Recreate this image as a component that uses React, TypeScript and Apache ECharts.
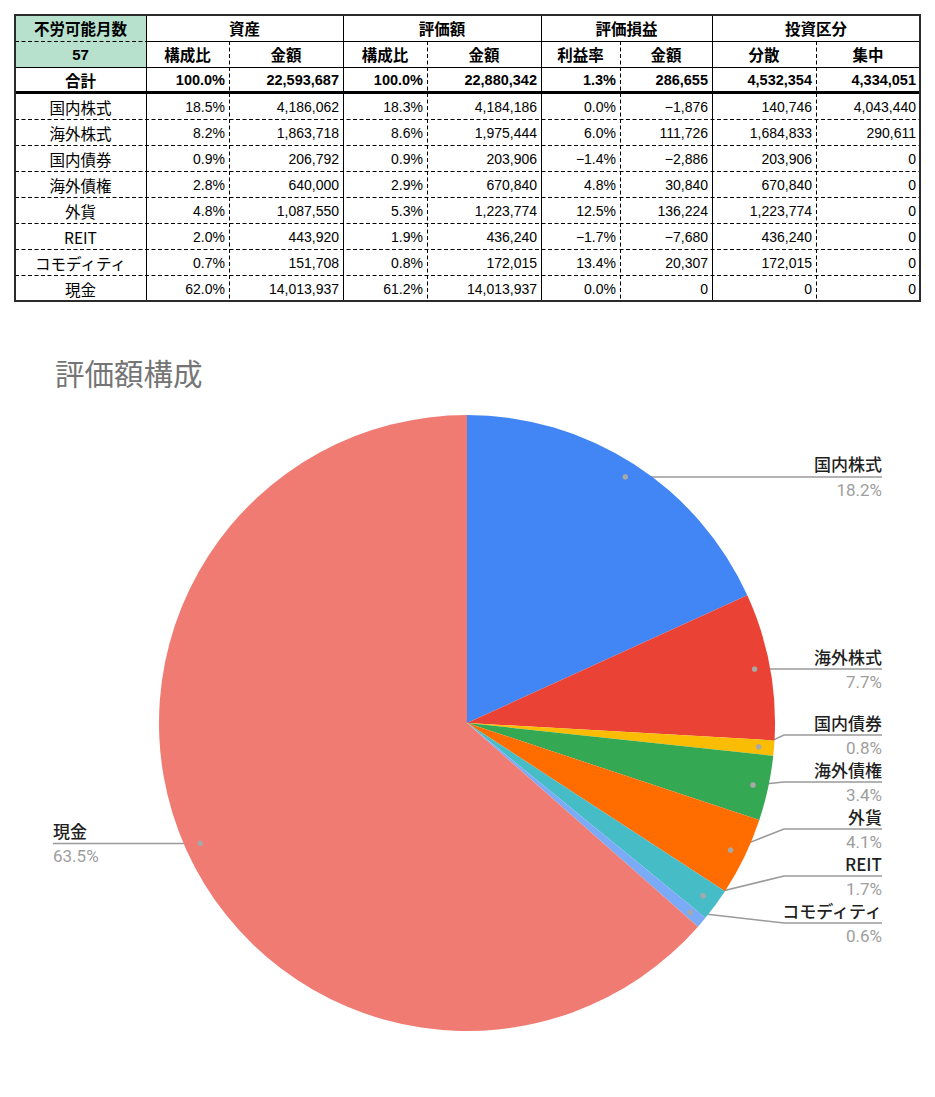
import React, { useEffect, useRef } from 'react';
import * as echarts from 'echarts';

// ---------- data ----------
const rowNames = ['国内株式', '海外株式', '国内債券', '海外債権', '外貨', 'REIT', 'コモディティ', '現金'];
const assetRatio = [18.5, 8.2, 0.9, 2.8, 4.8, 2.0, 0.7, 62.0];
const assetAmount = [4186062, 1863718, 206792, 640000, 1087550, 443920, 151708, 14013937];
const valueRatio = [18.3, 8.6, 0.9, 2.9, 5.3, 1.9, 0.8, 61.2];
const valueAmount = [4184186, 1975444, 203906, 670840, 1223774, 436240, 172015, 14013937];
const profitRate = [0.0, 6.0, -1.4, 4.8, 12.5, -1.7, 13.4, 0.0];
const profitAmount = [-1876, 111726, -2886, 30840, 136224, -7680, 20307, 0];
const diversified = [140746, 1684833, 203906, 670840, 1223774, 436240, 172015, 0];
const concentrated = [4043440, 290611, 0, 0, 0, 0, 0, 0];
const monthsLabel = '不労可能月数';
const monthsValue = 57;
const totalLabel = '合計';
const groupHeaders = ['資産', '評価額', '評価損益', '投資区分'];
const subHeaders = ['構成比', '金額', '構成比', '金額', '利益率', '金額', '分散', '集中'];

const chartTitle = '評価額構成';
const pieShares = [18.2, 7.7, 0.8, 3.4, 4.1, 1.7, 0.6, 63.5];
const pieColors = ['#4285F4', '#EA4335', '#FBBC04', '#34A853', '#FF6D01', '#46BDC6', '#7BAAF7', '#F07B72'];

// ---------- layout ----------
const W = 935;
const H = 1097;
const COLS = [15, 146, 229, 343, 427, 541, 620, 712, 816, 920];
const ROWS = [15, 41, 67, 92, 119, 145, 171, 197, 223, 249, 275, 301];
const CX = 467;
const CY = 723;
const R = 308;
const DOT_R = R * 0.95;
const KNEE = R + 9;
const RIGHT_EDGE = 882;
const LEFT_EDGE = 53;
const LABEL_GAP = 47;
const LABEL_MAX_Y = CY + 200;

const JP = '"Noto Sans CJK JP", "Noto Sans", sans-serif';
const NUM = '"Liberation Sans", Arial, sans-serif';

const sum = (a: number[]) => a.reduce((s, v) => s + v, 0);
const fmtInt = (n: number) => (n < 0 ? '−' : '') + Math.abs(Math.round(n)).toLocaleString('en-US');
const fmtPct = (p: number) => (p < -0.05 ? '−' : '') + Math.abs(p).toFixed(1) + '%';

function buildTable(): any[] {
  const els: any[] = [];
  const left = COLS[0];
  const right = COLS[COLS.length - 1];
  const top = ROWS[0];
  const bottom = ROWS[ROWS.length - 1];
  els.push({
    type: 'rect',
    shape: { x: left, y: top, width: COLS[1] - left, height: ROWS[2] - top },
    style: { fill: '#b7e1cd' },
    silent: true,
  });
  const line = (x1: number, y1: number, x2: number, y2: number, w: number, dash?: number[], color = '#000') => {
    els.push({
      type: 'line',
      shape: { x1, y1, x2, y2 },
      style: { stroke: color, lineWidth: w, lineDash: dash || null },
      silent: true,
      z: 10,
    });
  };
  const DASH = [4, 2.5];
  // horizontals
  line(left, ROWS[1] + 0.5, COLS[1], ROWS[1] + 0.5, 1, DASH);
  line(COLS[1], ROWS[1] + 0.5, right, ROWS[1] + 0.5, 1);
  line(left, ROWS[2] + 0.5, right, ROWS[2] + 0.5, 1);
  line(left, ROWS[3] + 0.5, right, ROWS[3] + 0.5, 3);
  for (let r = 4; r < ROWS.length - 1; r++) line(left, ROWS[r] + 0.5, right, ROWS[r] + 0.5, 1, DASH);
  // verticals
  [1, 3, 5, 7].forEach((c) => line(COLS[c] + 0.5, top, COLS[c] + 0.5, bottom, 1));
  [2, 4, 6, 8].forEach((c) => line(COLS[c] + 0.5, ROWS[1], COLS[c] + 0.5, bottom, 1, DASH));
  // outer border
  els.push({
    type: 'rect',
    shape: { x: left, y: top, width: right - left, height: bottom - top },
    style: { fill: 'none', stroke: '#2b2b2b', lineWidth: 2 },
    silent: true,
    z: 11,
  });

  const text = (t: string, x: number, y: number, align: string, bold: boolean, family: string, size: number) => {
    els.push({
      type: 'text',
      x,
      y,
      silent: true,
      z: 12,
      style: {
        text: t,
        align,
        textAlign: align,
        verticalAlign: 'middle',
        textVerticalAlign: 'middle',
        fill: '#000',
        fontSize: size,
        fontWeight: bold ? 'bold' : 'normal',
        fontFamily: family,
      },
    });
  };
  const rowMid = (r: number) => (ROWS[r] + ROWS[r + 1]) / 2 + (r >= 3 ? 1 : 0);
  const colMid = (c0: number, c1: number) => (COLS[c0] + COLS[c1]) / 2;
  const numX = (c: number) => COLS[c + 1] - 4;

  // header row 0
  text(monthsLabel, colMid(0, 1), rowMid(0), 'center', true, JP, 15.5);
  groupHeaders.forEach((g, i) => {
    const spans = [[1, 3], [3, 5], [5, 7], [7, 9]][i];
    text(g, colMid(spans[0], spans[1]), rowMid(0), 'center', true, JP, 15.5);
  });
  // header row 1
  text(String(monthsValue), colMid(0, 1), rowMid(1), 'center', true, NUM, 15);
  subHeaders.forEach((s, i) => text(s, colMid(i + 1, i + 2), rowMid(1), 'center', true, JP, 15.5));
  // totals row
  const totAsset = sum(assetAmount);
  const totValue = sum(valueAmount);
  const totProfit = sum(profitAmount);
  const totals = [
    fmtPct((sum(assetAmount) / totAsset) * 100),
    fmtInt(totAsset),
    fmtPct((sum(valueAmount) / totValue) * 100),
    fmtInt(totValue),
    fmtPct((totProfit / totAsset) * 100),
    fmtInt(totProfit),
    fmtInt(sum(diversified)),
    fmtInt(sum(concentrated)),
  ];
  text(totalLabel, colMid(0, 1), rowMid(2), 'center', true, JP, 15.5);
  totals.forEach((t, i) => text(t, numX(i + 1), rowMid(2), 'right', true, NUM, 14.5));
  // data rows
  rowNames.forEach((name, k) => {
    const r = 3 + k;
    text(name, colMid(0, 1), rowMid(r), 'center', false, JP, 15.5);
    const vals = [
      fmtPct(assetRatio[k]),
      fmtInt(assetAmount[k]),
      fmtPct(valueRatio[k]),
      fmtInt(valueAmount[k]),
      fmtPct(profitRate[k]),
      fmtInt(profitAmount[k]),
      fmtInt(diversified[k]),
      fmtInt(concentrated[k]),
    ];
    vals.forEach((t, i) => text(t, numX(i + 1), rowMid(r), 'right', false, NUM, 14));
  });
  return els;
}

function pieGeometry() {
  const total = sum(pieShares);
  let acc = 0;
  const items = pieShares.map((v, i) => {
    const mid = ((acc + v / 2) / total) * Math.PI * 2;
    acc += v;
    const s = Math.sin(mid);
    const dx = CX + DOT_R * s;
    const dy = CY - DOT_R * Math.cos(mid);
    return { i, right: s >= 0, dx, dy, y: dy };
  });
  const spread = (group: any[]) => {
    group.sort((a, b) => a.dy - b.dy);
    for (let k = 1; k < group.length; k++) group[k].y = Math.max(group[k].dy, group[k - 1].y + LABEL_GAP);
    for (let k = group.length - 1; k >= 0; k--) {
      const lim = k === group.length - 1 ? LABEL_MAX_Y : group[k + 1].y - LABEL_GAP;
      group[k].y = Math.min(group[k].y, lim);
    }
  };
  spread(items.filter((d) => d.right));
  spread(items.filter((d) => !d.right));
  return items.sort((a, b) => a.i - b.i);
}

export default function App() {
  const ref = useRef<HTMLDivElement>(null);
  useEffect(() => {
    if (!ref.current) return;
    const chart = echarts.init(ref.current, null, { renderer: 'svg' });
    const geo = pieGeometry();
    const dots = geo.map((g) => ({
      type: 'circle',
      shape: { cx: g.dx, cy: g.dy, r: 2.8 },
      style: { fill: '#a8a8a8' },
      silent: true,
      z: 100,
    }));
    const pctFont = 'Roboto, "Noto Sans", sans-serif';
    chart.setOption({
      animation: false,
      backgroundColor: '#ffffff',
      title: {
        text: chartTitle,
        left: 55,
        top: 357,
        padding: 0,
        textStyle: { fontSize: 29.5, fontWeight: 'normal', color: '#757575', fontFamily: JP },
      },
      graphic: { elements: [...buildTable(), ...dots] },
      series: [
        {
          type: 'pie',
          center: [CX, CY],
          radius: R,
          startAngle: 90,
          clockwise: true,
          avoidLabelOverlap: false,
          percentPrecision: 1,
          itemStyle: { borderWidth: 0 },
          emphasis: { disabled: true },
          data: rowNames.map((n, i) => ({ name: n, value: pieShares[i], itemStyle: { color: pieColors[i] } })),
          label: {
            show: true,
            position: 'outside',
            formatter: (p: any) => {
              const side = geo[p.dataIndex].right ? 'R' : 'L';
              return `{n${side}|${p.name}}\n{p${side}|${p.percent.toFixed(1)}%}`;
            },
            rich: {
              nR: { fontSize: 17, fontWeight: 500, color: '#1f1f1f', fontFamily: JP, lineHeight: 26, align: 'right' },
              pR: { fontSize: 17, color: '#9e9e9e', fontFamily: pctFont, lineHeight: 26, align: 'right' },
              nL: { fontSize: 17, fontWeight: 500, color: '#1f1f1f', fontFamily: JP, lineHeight: 26, align: 'left' },
              pL: { fontSize: 17, color: '#9e9e9e', fontFamily: pctFont, lineHeight: 26, align: 'left' },
            },
          },
          labelLine: { show: true, length: 10, length2: 10, lineStyle: { color: '#9a9a9a', width: 1.5 } },
          labelLayout: (params: any) => {
            const g = geo[params.dataIndex];
            const kneeX = g.right ? CX + KNEE : CX - KNEE;
            const endX = g.right ? RIGHT_EDGE : LEFT_EDGE;
            const kx = g.right ? Math.max(kneeX, g.dx) : Math.min(kneeX, g.dx);
            return {
              x: endX,
              y: g.y,
              align: g.right ? 'right' : 'left',
              verticalAlign: 'middle',
              labelLinePoints: [
                [g.dx, g.dy],
                [Math.abs(g.y - g.dy) < 1 ? kx : kneeX, g.y],
                [endX, g.y],
              ],
            };
          },
        },
      ],
    });
    return () => chart.dispose();
  }, []);
  return <div ref={ref} style={{ position: 'fixed', left: 0, top: 0, width: W, height: H, background: '#fff' }} />;
}
